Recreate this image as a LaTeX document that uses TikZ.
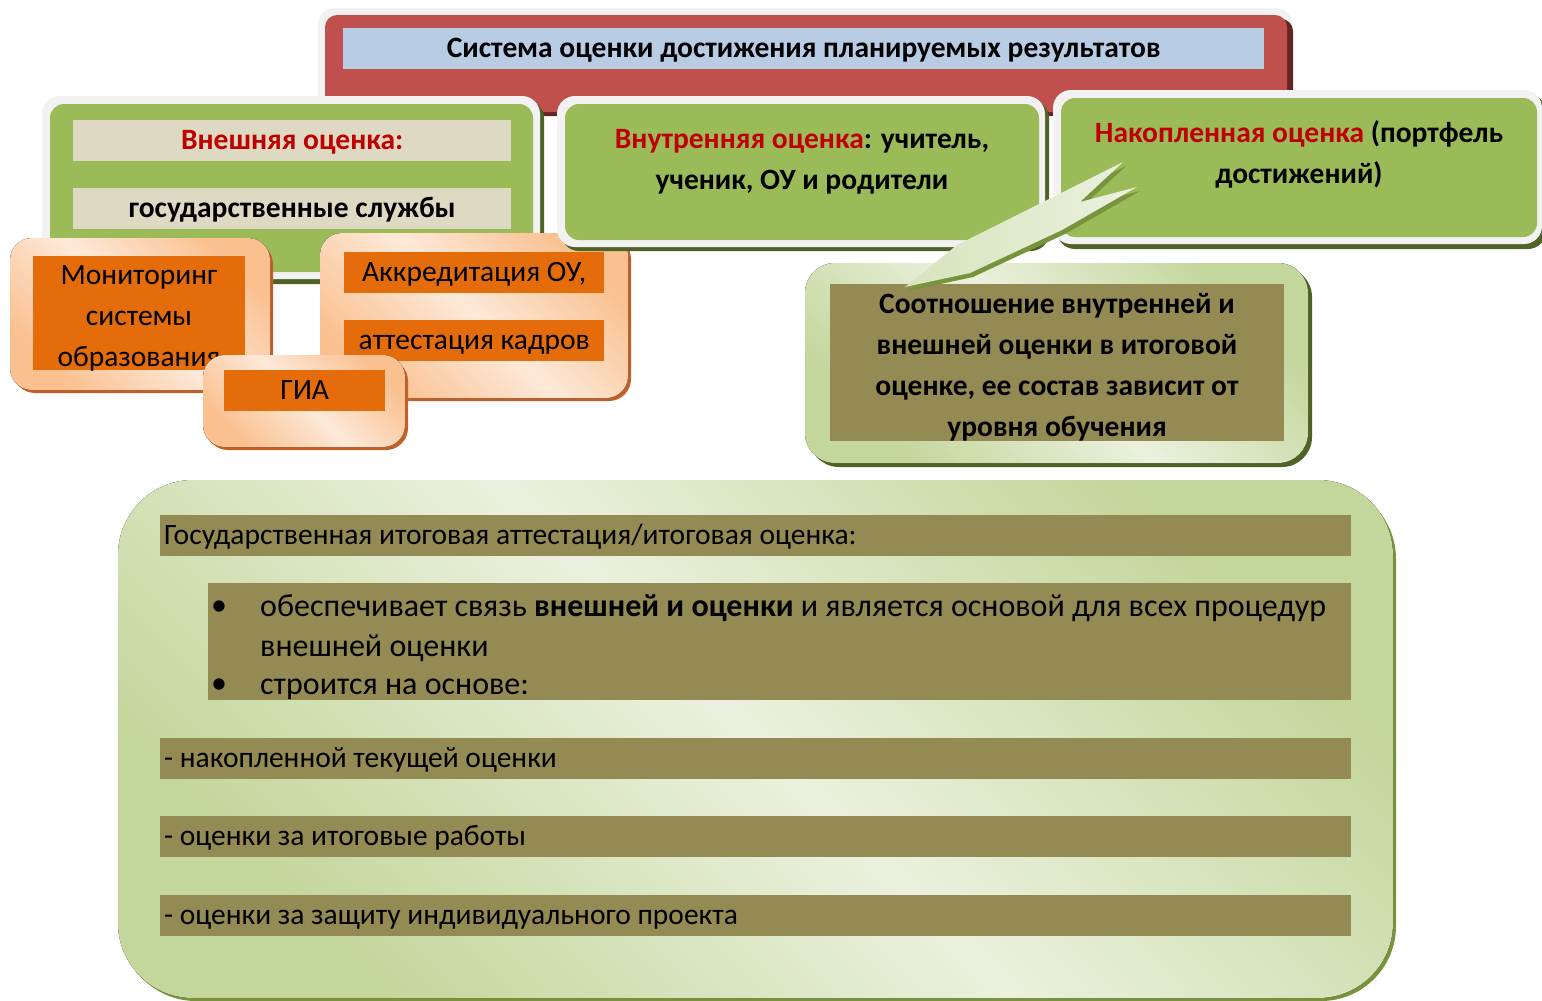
\documentclass[tikz,border=0pt]{standalone}
\usepackage{fontspec}
\setmainfont{Carlito}
\definecolor{rimgray}{HTML}{F2F2F2}
\definecolor{redbox}{HTML}{C0504D}
\definecolor{redshad}{HTML}{632523}
\definecolor{bluebox}{HTML}{B8CCE4}
\definecolor{gmain}{HTML}{9BBB59}
\definecolor{gshad}{HTML}{4F6228}
\definecolor{gmid}{HTML}{77933C}
\definecolor{beige}{HTML}{DDD9C3}
\definecolor{olive}{HTML}{948A54}
\definecolor{orangeM}{HTML}{E46C0A}
\definecolor{orangeL}{HTML}{FAC090}
\definecolor{orangeP}{HTML}{FDE9D9}
\definecolor{orangeS}{HTML}{C0602A}
\definecolor{gL}{HTML}{C3D69B}
\definecolor{gP}{HTML}{EBF1DE}
\definecolor{gQ}{HTML}{D7E4BD}
\definecolor{tred}{HTML}{C00000}
\begin{document}
\begin{tikzpicture}[x=1pt,y=-1pt,
  rim/.style={fill=rimgray, rounded corners=18pt},
  gshadow/.style={fill=gshad, rounded corners=18pt},
  greenfill/.style={fill=gmain, rounded corners=14pt},
  oshadow/.style={fill=orangeS, rounded corners=22pt},
  ofill/.style={rounded corners=22pt, top color=orangeL, bottom color=orangeL, middle color=orangeP, shading angle=-45},
  gfill/.style={top color=gL, bottom color=gL, middle color=gP, shading angle=-45},
  plate/.style={draw=none, inner sep=0pt, anchor=north west},
  one/.style={text height=25pt, text depth=7pt},
  beigeplate/.style={plate, fill=beige},
  oliveplate/.style={plate, fill=olive},
  orangeplate/.style={plate, fill=orangeM},
  hdr/.style={font=\fontsize{29.5}{41}\selectfont\bfseries, align=center},
  txt/.style={font=\fontsize{29.5}{41}\selectfont, align=center},
  ltxt/.style={font=\fontsize{29.5}{41}\selectfont, align=flush left, text width=1183, inner xsep=4},
  btxt/.style={font=\fontsize{32}{40}\selectfont, align=flush left, inner sep=0},
  bul/.style={font=\fontsize{32}{40}\selectfont, inner sep=0}
]
\useasboundingbox (0,0) rectangle (1542,1001);

% ---- top red box
\fill[rimgray, rounded corners=16pt] (318,8) rectangle (1292,114);
\fill[redshad, rounded corners=12pt] (329,19) rectangle (1293,116);
\fill[redbox, rounded corners=12pt] (325,15) rectangle (1287,112);
\node[plate, fill=bluebox, minimum width=921, minimum height=41, hdr, one] (title) at (343,28)
  {Система оценки достижения планируемых результатов};

% ---- left green box
\fill[gshadow] (45,100) rectangle (544,284);
\fill[rim] (42,96) rectangle (540,279);
\fill[greenfill] (50,104) rectangle (533,272);
\node[beigeplate, minimum width=438, minimum height=41, hdr, one, text=tred] (ext1) at (73,120) {Внешняя оценка:};
\node[beigeplate, minimum width=438, minimum height=41, hdr, one] (ext2) at (73,188) {государственные службы};

% ---- Monitoring box
\fill[oshadow] (13,242) rectangle (273,393);
\fill[ofill] (10,238) rectangle (270,390);
\node[orangeplate, minimum width=212, minimum height=114] (mon) at (33,256) {};
\node[txt] (mont) at (139,318) {Мониторинг\\системы\\образования};

% ---- Accreditation box
\fill[oshadow] (323,237) rectangle (631,401);
\fill[ofill] (320,233) rectangle (628,398);
\node[orangeplate, minimum width=260, minimum height=41, txt, one] (akk1) at (344,252) {Аккредитация ОУ,};
\node[orangeplate, minimum width=260, minimum height=41, txt, one] (akk2) at (344,320) {аттестация кадров};

% ---- middle green box
\fill[gshadow] (561,100) rectangle (1049,251);
\fill[rim] (557,96) rectangle (1045,247);
\fill[greenfill] (565,104) rectangle (1039,240);
\node[hdr] (inner) at (802,161.5) {{\color{tred}Внутренняя оценка}: учитель,\\ученик, ОУ и родители};

% ---- right green box
\fill[gshadow] (1057,94) rectangle (1546,249);
\fill[rim] (1053,90) rectangle (1542,244);
\fill[greenfill] (1061,98) rectangle (1537,237);
\node[hdr] (acc) at (1299,154.5) {{\color{tred}Накопленная оценка} (портфель\\достижений)};

% ---- GIA box
\fill[oshadow] (206,359) rectangle (408,450);
\fill[ofill] (203,355) rectangle (405,447);
\node[orangeplate, minimum width=161, minimum height=41, txt, one] (gia) at (224,370) {ГИА};

% ---- callout box
\fill[gshadow, rounded corners=30pt] (809,267) rectangle (1312,467);
\fill[gfill, rounded corners=30pt] (805,263) rectangle (1308,463);
\node[oliveplate, minimum width=454, minimum height=157] (ratio) at (830,284) {};
\node[hdr] (ratiot) at (1057,367.5)
  {Соотношение внутренней и\\внешней оценки в итоговой\\оценке, ее состав зависит от\\уровня обучения};

% ---- pointer
\fill[gmid] (908,291) -- (960,249) -- (1126,166) -- (1083,206) -- (1140,191) -- (1065,234) -- (973,277) -- cycle;
\shade[left color=gQ, right color=gP] (905,287) -- (957,245) -- (1123,162) -- (1080,202) -- (1137,187) -- (1062,230) -- (970,273) -- cycle;

% ---- bottom box
\fill[gmid, rounded corners=75pt] (121,484) rectangle (1396,1001);
\fill[gfill, rounded corners=75pt] (118,480) rectangle (1393,998);
\node[oliveplate, minimum width=1191, minimum height=41, ltxt, one] (gia1) at (160,515)
  {Государственная итоговая аттестация/итоговая оценка:};
\node[oliveplate, minimum width=1143, minimum height=117] (list) at (208,583) {};
\node[bul] (b1) at (219,608) {•};
\node[btxt, anchor=west] (b1t) at (260,628)
  {обеспечивает связь \textbf{внешней и оценки} и является основой для всех процедур\\внешней оценки};
\node[bul] (b2) at (219,686) {•};
\node[btxt, anchor=west] (b2t) at (260,689) {строится на основе:};
\node[oliveplate, minimum width=1191, minimum height=41, ltxt, one] (p1) at (160,738) {- накопленной текущей оценки};
\node[oliveplate, minimum width=1191, minimum height=41, ltxt, one] (p2) at (160,816) {- оценки за итоговые работы};
\node[oliveplate, minimum width=1191, minimum height=41, ltxt, one] (p3) at (160,895) {- оценки за защиту индивидуального проекта};
\end{tikzpicture}
\end{document}
